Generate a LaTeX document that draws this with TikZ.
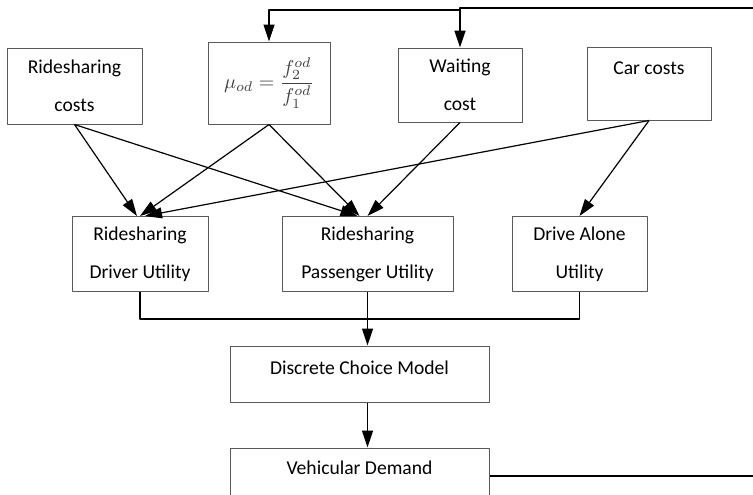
\documentclass[tikz,border=0pt]{standalone}
\usepackage{fontspec}
\setmainfont{Carlito}
\usepackage{amsmath}
\usetikzlibrary{arrows.meta, calc}

\begin{document}
\begin{tikzpicture}[x=0.5pt, y=-0.5pt, >={Triangle[length=8.5pt,width=5.5pt]}, line join=round,
	font=\fontsize{9.8}{19}\selectfont,
	box/.style={draw=black!65, line width=0.5pt, align=center, inner sep=0pt},
	link/.style={->, line width=0.6pt},
	fb/.style={line width=0.9pt}]
	
	\useasboundingbox (0,0) rectangle (753,494);
	\clip (0,0) rectangle (753,494);
	
	%========================
	% Top row: cost inputs
	%========================
	\node[box, minimum width=67.5pt, minimum height=38pt] (rsc) at (74.5,86) {Ridesharing\\costs};
	\node[box, minimum width=61pt, minimum height=41pt, text=black!75] (mu) at (269,83)
	{$\displaystyle\mu_{od}=\frac{f_2^{od}}{f_1^{od}}$};
	\node[box, minimum width=62pt, minimum height=37pt] (wait) at (460,85) {Waiting\\cost};
	\node[box, minimum width=62pt, minimum height=36.5pt, text height=7pt, text depth=16pt] (car) at (649,83.5) {Car costs};
	
	%========================
	% Middle row: utilities
	%========================
	\node[box, minimum width=68pt, minimum height=37.5pt] (drv) at (140,254) {Ridesharing\\Driver Utility};
	\node[box, minimum width=85.5pt, minimum height=37.5pt] (pas) at (367.5,254) {Ridesharing\\Passenger Utility};
	\node[box, minimum width=67.5pt, minimum height=37.5pt] (alone) at (579.5,254) {Drive Alone\\Utility};
	
	%========================
	% Bottom: choice model and demand
	%========================
	\node[box, minimum width=129.5pt, minimum height=28pt, text height=7pt, text depth=6.5pt] (dcm) at (359.5,374) {Discrete Choice Model};
	\node[box, minimum width=129.5pt, minimum height=28pt, text height=7pt, text depth=8.5pt] (dem) at (359.5,476) {Vehicular Demand};
	
	% costs -> utilities
	\draw[link] (rsc.south) -- ([xshift=-1.5pt]drv.north);
	\draw[link] (rsc.south) -- ([xshift=-5pt]pas.north);
	\draw[link] (mu.south) -- (drv.north);
	\draw[link] (mu.south) -- ([xshift=-4pt]pas.north);
	\draw[link] (wait.south) -- (pas.north);
	\draw[link] (car.south) -- ([xshift=2.5pt]drv.north);
	\draw[link] (car.south) -- (alone.north);
	
	% utilities -> choice model -> demand
	\coordinate (jn) at ([yshift=-13.5pt]pas.south);
	\draw[line width=0.6pt] (drv.south) |- (jn) -| (alone.south);
	\draw[link] (pas.south) -- (pas.south |- dcm.north);
	\draw[link] (pas.south |- dcm.south) -- (pas.south |- dem.north);
	
	% feedback of demand to waiting cost and mu
	\coordinate (fbr) at (820,8);
	\coordinate (fbm) at (460,10);
	\draw[fb, ->] (dem.east) -| (fbr) -| (wait.north);
	\draw[link] (fbm) -| (mu.north);
	
\end{tikzpicture}
\end{document}
